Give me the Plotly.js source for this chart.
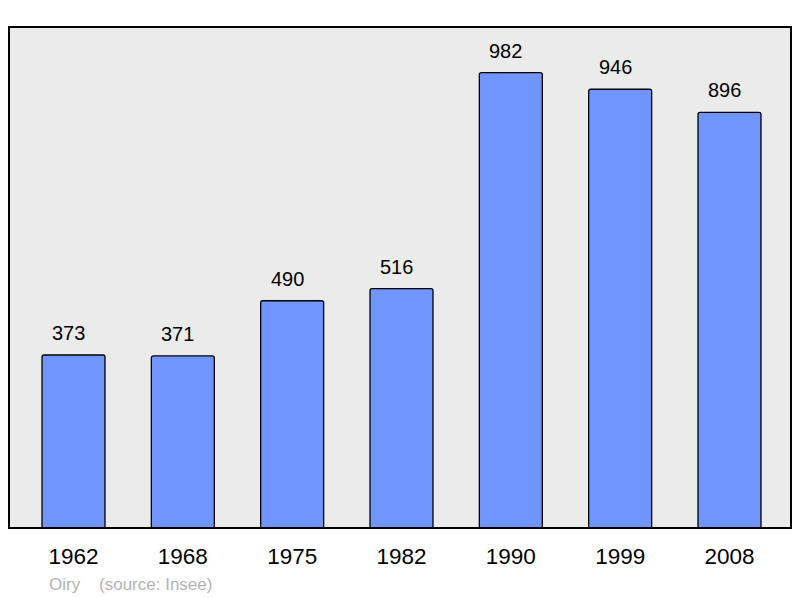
<!DOCTYPE html>
<html><head><meta charset="utf-8">
<script src="https://cdn.plot.ly/plotly-3.0.1.min.js"></script>
<style>html,body{margin:0;padding:0;background:#fff}#c{width:800px;height:598px}</style>
</head><body><div id="c"></div>
<script>
const years = ["1962","1968","1975","1982","1990","1999","2008"];
const population = [373, 371, 490, 516, 982, 946, 896];
const sourceNote = "Oiry\u00a0\u00a0\u00a0\u00a0(source: Insee)";

const font = "Liberation Sans, Arial, sans-serif";
const trace = {
  type: "bar", x: years, y: population, width: 0.576,
  marker: {color: "#7095ff", line: {color: "#000", width: 1.3}, cornerradius: 2},
  hoverinfo: "skip"
};
const anns = years.map((y, i) => ({
  x: i, y: population[i], xref: "x", yref: "y", text: String(population[i]),
  showarrow: false, yanchor: "middle", yshift: 22, xshift: -5,
  font: {family: font, size: 20, color: "#000"}
}));
anns.push({xref: "paper", yref: "paper", x: 0.048, y: -0.112, xanchor: "left", yanchor: "middle",
  text: sourceNote, showarrow: false, font: {family: font, size: 17, color: "#b3b3b3"}});

const layout = {
  width: 800, height: 598,
  margin: {l: 9, r: 9, t: 27, b: 70},
  paper_bgcolor: "#fff", plot_bgcolor: "#ebebeb",
  showlegend: false,
  xaxis: {type: "category", range: [-0.59, 6.5625], showgrid: false, zeroline: false,
    ticks: "", showline: false, tickfont: {family: font, size: 22.5, color: "#000"}, ticklabelstandoff: 12},
  yaxis: {range: [0, 1080.2], showgrid: false, zeroline: false, showticklabels: false, ticks: "", showline: false},
  shapes: [{type: "rect", xref: "paper", yref: "paper", x0: 0, x1: 1, y0: 0, y1: 1,
    line: {color: "#000", width: 2}, fillcolor: "rgba(0,0,0,0)"}],
  annotations: anns
};
Plotly.newPlot("c", [trace], layout, {displayModeBar: false, staticPlot: true});
</script></body></html>
